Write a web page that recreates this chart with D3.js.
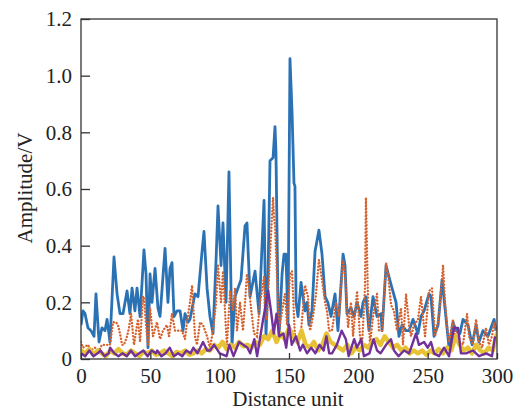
<!DOCTYPE html>
<html>
<head>
<meta charset="utf-8">
<script src="https://cdn.jsdelivr.net/npm/d3@7"></script>
<style>
  body { margin: 0; background: #fff; }
  svg text { font-family: "Liberation Serif", "Times New Roman", serif; fill: #222; }
</style>
</head>
<body>
<div id="chart-area"></div>
<script>
// Amplitude readings along the distance axis, [distance, amplitude]
var blueSeries = [[0,0.12],[1.4,0.17],[2.9,0.16],[5,0.11],[7.2,0.10],[9.4,0.08],[10.8,0.23],[13,0.06],[15.1,0.11],[17.3,0.10],[18.8,0.14],[20.9,0.06],[23.8,0.36],[26,0.23],[28.1,0.16],[30.3,0.16],[33.2,0.24],[35.3,0.16],[36.8,0.25],[38.9,0.17],[40.4,0.25],[42.6,0.15],[45.4,0.385],[46.9,0.30],[48.3,0.04],[49.8,0.30],[51.2,0.20],[53.4,0.32],[55.5,0.18],[57,0.15],[60.6,0.39],[62.7,0.20],[64.2,0.32],[65.6,0.34],[67.1,0.15],[69.2,0.17],[71.4,0.17],[73.6,0.10],[75,0.16],[77.2,0.13],[78.6,0.14],[82.2,0.23],[84.4,0.22],[87.3,0.38],[88.7,0.45],[90.9,0.25],[93,0.15],[95.2,0.09],[97.4,0.35],[98.8,0.54],[101,0.33],[102.4,0.48],[104.6,0.20],[106.7,0.66],[108.9,0.05],[111.1,0.22],[113.2,0.25],[115.4,0.28],[118.3,0.47],[119.7,0.48],[121.9,0.22],[125.5,0.31],[128.4,0.16],[132,0.56],[133.4,0.08],[134.9,0.30],[136.3,0.70],[138.5,0.71],[139.9,0.82],[140.6,0.73],[142.1,0.18],[142.8,0.08],[145,0.30],[146.4,0.37],[147.8,0.37],[149.3,0.12],[150.7,1.06],[152.2,0.87],[153.6,0.62],[154.3,0.61],[155.1,0.20],[156.5,0.15],[158.7,0.27],[161.5,0.17],[163,0.20],[164.4,0.12],[166.6,0.17],[168.8,0.38],[171.6,0.455],[173.8,0.37],[176,0.22],[178,0.20],[180.3,0.15],[183.2,0.23],[185.3,0.10],[189,0.37],[190.4,0.33],[191.8,0.16],[194.7,0.18],[196.9,0.15],[199.1,0.20],[201.9,0.15],[203.4,0.20],[205.5,0.22],[207.7,0.10],[210.6,0.22],[213.5,0.15],[216.4,0.16],[217.1,0.10],[220,0.33],[222.1,0.29],[224.3,0.25],[227.2,0.20],[229.3,0.08],[231.5,0.12],[234.4,0.10],[236.6,0.10],[239.4,0.14],[243,0.09],[245.2,0.15],[247.4,0.17],[251,0.23],[252.4,0.22],[254.6,0.08],[257.5,0.12],[260.4,0.28],[262.5,0.18],[265.4,0.04],[268.3,0.13],[270.4,0.10],[273.3,0.09],[275.5,0.14],[279.1,0.12],[282,0.05],[284.9,0.12],[287,0.06],[289.9,0.10],[293.5,0.08],[296.4,0.12],[297.9,0.14],[299.3,0.10]];

var orangeSeries = [[0,0.06],[1.4,0.04],[5,0.05],[7.2,0.03],[10.1,0.04],[13,0.03],[15.1,0.05],[18,0.05],[20.9,0.05],[23.1,0.13],[25.2,0.13],[26.7,0.12],[28.1,0.09],[29.6,0.05],[31,0.05],[33.2,0.08],[34.6,0.11],[36.1,0.16],[38.2,0.05],[41.1,0.14],[42.6,0.06],[44.7,0.22],[45.4,0.22],[46.9,0.12],[48.3,0.05],[49.8,0.18],[51.9,0.08],[54.8,0.13],[57,0.07],[59.1,0.10],[62,0.12],[63.5,0.08],[65.6,0.16],[67.8,0.10],[70,0.10],[72.8,0.10],[75,0.07],[76.4,0.13],[78.6,0.20],[80.1,0.26],[80.8,0.20],[82.2,0.08],[83.7,0.05],[85.8,0.13],[88,0.12],[90.9,0.08],[93,0.04],[95.2,0.10],[97.4,0.20],[98.8,0.33],[101,0.20],[102.4,0.31],[104.6,0.10],[105.3,0.05],[107.5,0.24],[109.6,0.17],[111.1,0.25],[112.5,0.10],[114.7,0.20],[116.8,0.10],[118.3,0.20],[119.7,0.30],[121.2,0.25],[122.6,0.18],[124.8,0.09],[126.9,0.08],[129.1,0.20],[132,0.29],[132.7,0.15],[134.1,0.14],[136.3,0.37],[138.5,0.57],[139.2,0.50],[139.9,0.47],[141.4,0.28],[142.8,0.10],[145,0.17],[147.1,0.23],[148.6,0.12],[150.7,0.30],[152.2,0.31],[153.6,0.15],[154.3,0.08],[156.5,0.05],[158.7,0.10],[161.5,0.26],[163.7,0.22],[165.2,0.10],[167.3,0.15],[169.5,0.23],[171.6,0.35],[173.8,0.28],[176,0.20],[177.4,0.17],[178.9,0.10],[181,0.10],[183.9,0.20],[186.1,0.15],[189,0.35],[190.4,0.30],[192.6,0.11],[194.7,0.20],[196.2,0.08],[199.1,0.24],[201.2,0.08],[202.7,0.05],[204.8,0.25],[205.5,0.57],[207,0.20],[208.4,0.05],[210.6,0.15],[213.5,0.23],[214.9,0.10],[217.1,0.10],[220,0.34],[221.4,0.30],[223.6,0.19],[225.7,0.17],[227.9,0.10],[230.8,0.18],[232.2,0.05],[234.4,0.23],[236.6,0.12],[238,0.08],[240.2,0.12],[243,0.14],[245.2,0.22],[246.6,0.15],[248.1,0.08],[251,0.24],[253.1,0.25],[255.3,0.08],[258.2,0.15],[261.1,0.33],[262.5,0.20],[264.7,0.08],[265.4,0.06],[268.3,0.14],[269.7,0.08],[271.9,0.10],[273.3,0.06],[275.5,0.05],[278.4,0.16],[279.8,0.08],[282.7,0.05],[284.9,0.14],[287,0.06],[289.2,0.04],[292.1,0.11],[294.2,0.05],[296.4,0.08],[297.9,0.13],[299.3,0.10]];

var purpleSeries = [[0,0.02],[3,0.01],[6,0.03],[9,0.01],[12,0.02],[14,0.03],[17,0.01],[20,0.02],[21,0.04],[24,0.02],[27,0.01],[30,0.02],[33,0.01],[36,0.03],[39,0.01],[42,0.02],[45,0.03],[48,0.01],[51,0.03],[54,0.02],[55,0.03],[58,0.01],[61,0.02],[64,0.04],[67,0.01],[70,0.02],[73,0.01],[76,0.03],[79,0.02],[81,0.04],[84,0.02],[88,0.06],[91,0.03],[93,0.03],[96,0.05],[100,0.02],[105,0.01],[107,0.05],[110,0.01],[114,0.06],[117,0.05],[120,0.04],[122,0.02],[125,0.07],[127,0.01],[131,0.13],[135,0.24],[137,0.17],[139,0.09],[141,0.16],[143,0.08],[146,0.09],[148,0.04],[150,0.12],[152,0.05],[155,0.08],[158,0.03],[160,0.05],[163,0.02],[166,0.04],[169,0.02],[172,0.05],[175,0.03],[177,0.08],[179,0.02],[181,0.02],[184.5,0.05],[188,0.10],[191,0.07],[193,0.01],[197,0.07],[199,0.04],[202,0.07],[204,0.01],[208,0.02],[211,0.07],[213.5,0.03],[216,0.02],[220,0.05],[223.5,0.07],[225.7,0.03],[229,0.01],[233,0.03],[236.6,0.02],[241.6,0.09],[243.7,0.05],[247.4,0.06],[250,0.04],[252.4,0.06],[254.6,0.02],[258.2,0.01],[261.8,0.04],[265.4,0.01],[269,0.11],[271.9,0.11],[274,0.02],[277.7,0.02],[282.7,0.03],[287,0.01],[292,0.02],[296.4,0.01],[298.6,0.08]];

// yellow trace sampled every 3 distance units
var yellowAmp = [0.03,0.02,0.035,0.015,0.03,0.02,0.01,0.03,0.02,0.035,0.02,
    0.015,0.03,0.02,0.01,0.025,0.02,0.03,0.015,0.02,0.03,
    0.02,0.01,0.025,0.02,0.03,0.015,0.02,0.03,0.02,0.035,
    0.03,0.05,0.04,0.06,0.035,0.05,0.04,0.06,0.045,0.05,
    0.04,0.06,0.05,0.08,0.07,0.10,0.06,0.09,0.07,0.11,
    0.08,0.06,0.10,0.05,0.04,0.06,0.03,0.05,0.09,0.06,
    0.05,0.04,0.03,0.05,0.02,0.04,0.03,0.05,0.04,0.06,
    0.07,0.05,0.08,0.06,0.04,0.05,0.03,0.04,0.02,0.03,
    0.02,0.03,0.015,0.03,0.02,0.035,0.02,0.04,0.03,0.08,
    0.05,0.03,0.04,0.02,0.05,0.03,0.02,0.04,0.03,0.09];
var yellowSeries = yellowAmp.map((v, i) => [i * 3, v]);

var xTicks = [0, 50, 100, 150, 200, 250, 300];
var yTicks = [0, 0.2, 0.4, 0.6, 0.8, 1.0, 1.2];
var yTickLabels = ["0", "0.2", "0.4", "0.6", "0.8", "1.0", "1.2"];

var width = 518, height = 410;
var plotL = 81, plotR = 497, plotT = 19, plotB = 359;
var fontSize = 21;

var svg = d3.select("#chart-area").append("svg")
    .attr("width", width)
    .attr("height", height);

var x = d3.scaleLinear().domain([0, 300]).range([plotL, plotR]);
var y = d3.scaleLinear().domain([0, 1.2]).range([plotB, plotT]);

svg.append("clipPath").attr("id", "plot-clip")
    .append("rect")
        .attr("x", plotL).attr("y", plotT)
        .attr("width", plotR - plotL).attr("height", plotB - plotT);

var line = d3.line()
    .x(d => x(d[0]))
    .y(d => y(d[1]));

var plot = svg.append("g").attr("clip-path", "url(#plot-clip)");

plot.append("path")
    .attr("d", line(blueSeries))
    .attr("fill", "none")
    .attr("stroke", "#2b72b4")
    .attr("stroke-width", 2.8)
    .attr("stroke-linejoin", "round");

plot.append("path")
    .attr("d", line(orangeSeries))
    .attr("fill", "none")
    .attr("stroke", "#d6622e")
    .attr("stroke-width", 2.4)
    .attr("stroke-linecap", "round")
    .attr("stroke-dasharray", "0.1 3.2");

plot.append("path")
    .attr("d", line(yellowSeries))
    .attr("fill", "none")
    .attr("stroke", "#e8c235")
    .attr("stroke-width", 4.5)
    .attr("stroke-linejoin", "round")
    .attr("stroke-linecap", "round");

plot.append("path")
    .attr("d", line(purpleSeries))
    .attr("fill", "none")
    .attr("stroke", "#71309a")
    .attr("stroke-width", 2.4)
    .attr("stroke-linejoin", "round");

// frame
svg.append("rect")
    .attr("x", plotL).attr("y", plotT)
    .attr("width", plotR - plotL).attr("height", plotB - plotT)
    .attr("fill", "none")
    .attr("stroke", "#333")
    .attr("stroke-width", 1.3);

// inward ticks
var xAxis = d3.axisBottom(x).tickValues(xTicks).tickSizeInner(-6).tickSizeOuter(0).tickPadding(9);
var gx = svg.append("g").attr("transform", `translate(0,${plotB})`).call(xAxis);
gx.select(".domain").remove();
gx.selectAll("line").attr("stroke", "#333").attr("stroke-width", 1.3);
gx.selectAll("text").attr("font-size", fontSize).attr("fill", "#222");

var yAxis = d3.axisLeft(y).tickValues(yTicks)
    .tickFormat((d, i) => yTickLabels[i])
    .tickSizeInner(-9).tickSizeOuter(0).tickPadding(9);
var gy = svg.append("g").attr("transform", `translate(${plotL},0)`).call(yAxis);
gy.select(".domain").remove();
gy.selectAll("line").attr("stroke", "#333").attr("stroke-width", 1.3);
gy.selectAll("text").attr("font-size", fontSize).attr("fill", "#222");

svg.append("text")
    .attr("x", (plotL + plotR) / 2 - 1)
    .attr("y", 406)
    .attr("text-anchor", "middle")
    .attr("font-size", fontSize)
    .text("Distance unit");

svg.append("text")
    .attr("transform", "translate(32,188) rotate(-90)")
    .attr("text-anchor", "middle")
    .attr("font-size", fontSize)
    .text("Amplitude/V");
</script>
</body>
</html>
